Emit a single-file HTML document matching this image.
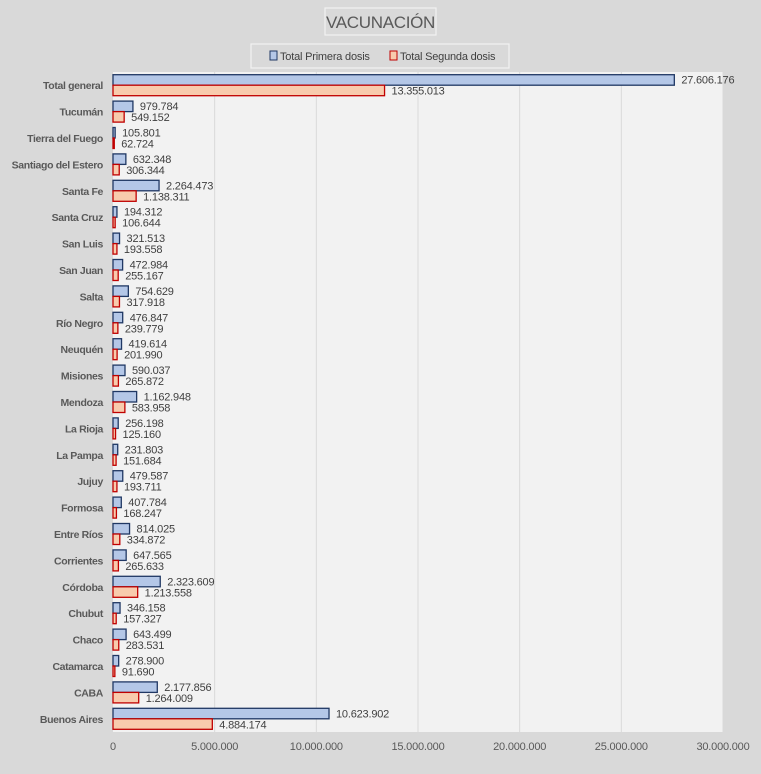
<!DOCTYPE html>
<html><head><meta charset="utf-8"><style>
body{margin:0;background:#d9d9d9;}
svg{display:block;font-family:"Liberation Sans",sans-serif;}
</style></head><body>
<svg id="chart" width="761" height="774" viewBox="0 0 761 774">
<rect x="0" y="0" width="761" height="774" fill="#d9d9d9"/>
<rect x="325" y="8" width="111" height="27" fill="#d9d9d9" stroke="#f2f2f2" stroke-width="1.2"/>
<text x="380.5" y="28" text-anchor="middle" font-size="17" letter-spacing="-0.3" fill="#595959">VACUNACIÓN</text>
<g>
<rect x="251" y="44" width="258" height="24" fill="#d9d9d9" stroke="#f2f2f2" stroke-width="1.2"/>
<rect x="270" y="51" width="7" height="9" fill="#b4c7e7" stroke="#203864"/>
<text x="280" y="60" font-size="11" letter-spacing="-0.2" fill="#404040">Total Primera dosis</text>
<rect x="390" y="51" width="7" height="9" fill="#f8cbad" stroke="#c00000"/>
<text x="400" y="60" font-size="11" letter-spacing="-0.2" fill="#404040">Total Segunda dosis</text>
</g>
<rect x="113" y="72" width="610" height="660" fill="#f2f2f2"/>
<g id="grid"></g><g id="bars"></g><g id="labels"></g>
</svg>
<script>
const categories=["Total general","Tucumán","Tierra del Fuego","Santiago del Estero","Santa Fe","Santa Cruz","San Luis","San Juan","Salta","Río Negro","Neuquén","Misiones","Mendoza","La Rioja","La Pampa","Jujuy","Formosa","Entre Ríos","Corrientes","Córdoba","Chubut","Chaco","Catamarca","CABA","Buenos Aires"];
const primera=[27606176,979784,105801,632348,2264473,194312,321513,472984,754629,476847,419614,590037,1162948,256198,231803,479587,407784,814025,647565,2323609,346158,643499,278900,2177856,10623902];
const segunda=[13355013,549152,62724,306344,1138311,106644,193558,255167,317918,239779,201990,265872,583958,125160,151684,193711,168247,334872,265633,1213558,157327,283531,91690,1264009,4884174];
const ticks=[0,5000000,10000000,15000000,20000000,25000000,30000000];
const NS="http://www.w3.org/2000/svg";
const X0=113,X1=723,Y0=72,Y1=732,XMAX=30000000;
const xs=v=>X0+(v/XMAX)*(X1-X0);
const band=(Y1-Y0)/categories.length;
const yc=i=>Y0+band*(i+0.5);
const fmt=v=>v.toString().replace(/\B(?=(\d{3})+(?!\d))/g,".");
function mk(tag,attrs,parent,text){const e=document.createElementNS(NS,tag);for(const k in attrs)e.setAttribute(k,attrs[k]);if(text!==undefined)e.textContent=text;document.getElementById(parent).appendChild(e);return e;}
ticks.forEach((t,i)=>{
  if(t>0){const g=mk("line",{x1:xs(t),x2:xs(t),y1:Y0,y2:Y1,stroke:"#d9d9d9","stroke-width":1},"grid");
  
  }
  const l=mk("text",{x:xs(t),y:750,"text-anchor":"middle","font-size":11,"letter-spacing":-0.2,fill:"#595959"},"labels",fmt(t));
  
  
});
const bh=10.5;
categories.forEach((c,i)=>{
  const y=yc(i);
  const cl=mk("text",{x:103,y:y+4,"text-anchor":"end","font-size":10.5,"letter-spacing":-0.35,"font-weight":"bold",fill:"#595959"},"labels",c);
  
  
  const b1=mk("rect",{x:X0,y:y-bh,width:Math.max(1,xs(primera[i])-X0),height:bh,fill:"#b4c7e7",stroke:"#203864","stroke-width":1.3},"bars");
  
  
  const b2=mk("rect",{x:X0,y:y,width:Math.max(1,xs(segunda[i])-X0),height:bh,fill:"#f8cbad",stroke:"#c00000","stroke-width":1.3},"bars");
  
  
  const v1=mk("text",{x:xs(primera[i])+7,y:y-1.5,"font-size":11,"letter-spacing":-0.2,fill:"#404040"},"labels",fmt(primera[i]));
  
  
  const v2=mk("text",{x:xs(segunda[i])+7,y:y+9.5,"font-size":11,"letter-spacing":-0.2,fill:"#404040"},"labels",fmt(segunda[i]));
  
  
});
</script>
</body></html>
